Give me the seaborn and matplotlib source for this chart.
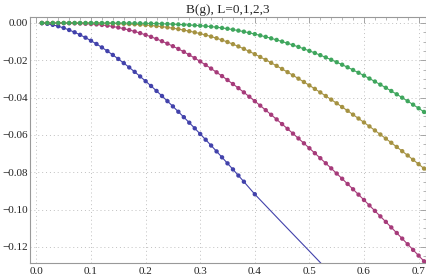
import numpy as np
import pandas as pd
import matplotlib
matplotlib.use("Agg")
import matplotlib.pyplot as plt
from matplotlib.ticker import MultipleLocator, FuncFormatter
import seaborn as sns

# ---------------- data ----------------
g_all = [round(0.01 * i, 2) for i in range(1, 73)]  # 0.01 .. 0.72

g_L0 = [0.01, 0.02, 0.03, 0.04, 0.05, 0.06, 0.07, 0.08, 0.09, 0.10,
        0.11, 0.12, 0.13, 0.14, 0.15, 0.16, 0.17, 0.18, 0.19, 0.20,
        0.21, 0.22, 0.23, 0.24, 0.25, 0.26, 0.27, 0.28, 0.29, 0.30,
        0.31, 0.32, 0.33, 0.34, 0.35, 0.36, 0.37, 0.38, 0.40]
B_L0 = [-0.000118, -0.000461, -0.001010, -0.001750, -0.002667, -0.003748, -0.004982, -0.006358, -0.007867, -0.009500,
        -0.011249, -0.013107, -0.015066, -0.017122, -0.019268, -0.021499, -0.023809, -0.026196, -0.028654, -0.031180,
        -0.033769, -0.036420, -0.039128, -0.041891, -0.044706, -0.047571, -0.050482, -0.053438, -0.056438, -0.059478,
        -0.062558, -0.065674, -0.068826, -0.072013, -0.075232, -0.078483, -0.081763, -0.085072, -0.091780]
# continuation of the L=0 curve (line only, no points)
g_L0_ext = [0.45, 0.50, 0.55]
B_L0_ext = [-0.1071, -0.1223, -0.1376]

B_L1 = [-0.0000006, -0.0000044, -0.0000149, -0.0000352, -0.0000688, -0.000119, -0.000189, -0.000282, -0.000401, -0.000550,
        -0.000757, -0.001047, -0.001421, -0.001878, -0.002419, -0.003043, -0.003751, -0.004542, -0.005417, -0.006375,
        -0.007418, -0.008546, -0.009758, -0.011056, -0.012438, -0.013906, -0.015458, -0.017096, -0.018818, -0.020626,
        -0.022504, -0.024436, -0.026424, -0.028466, -0.030564, -0.032716, -0.034924, -0.037186, -0.039504, -0.041876,
        -0.044289, -0.046726, -0.049189, -0.051676, -0.054189, -0.056726, -0.059289, -0.061876, -0.064489, -0.067126,
        -0.069789, -0.072476, -0.075189, -0.077926, -0.080689, -0.083476, -0.086289, -0.089126, -0.091989, -0.094876,
        -0.097784, -0.100708, -0.103648, -0.106604, -0.109576, -0.112564, -0.115568, -0.118588, -0.121624, -0.124676,
        -0.127728, -0.130810]

B_L2 = [0.0, -0.0000001, -0.0000006, -0.0000018, -0.0000043, -0.0000089, -0.0000166, -0.0000283, -0.0000453, -0.000069,
        -0.000101, -0.000143, -0.000197, -0.000265, -0.000349, -0.000452, -0.000576, -0.000724, -0.000899, -0.001104,
        -0.001348, -0.001640, -0.001980, -0.002368, -0.002804, -0.003288, -0.003820, -0.004400, -0.005028, -0.005704,
        -0.006444, -0.007264, -0.008164, -0.009144, -0.010204, -0.011344, -0.012564, -0.013864, -0.015244, -0.016704,
        -0.018222, -0.019774, -0.021362, -0.022984, -0.024642, -0.026334, -0.028062, -0.029824, -0.031622, -0.033454,
        -0.035318, -0.037208, -0.039126, -0.041070, -0.043042, -0.045040, -0.047066, -0.049118, -0.051198, -0.053304,
        -0.055436, -0.057590, -0.059768, -0.061968, -0.064192, -0.066438, -0.068708, -0.071000, -0.073316, -0.075654,
        -0.078014, -0.080390]

B_L3 = [0.0, 0.0, 0.0, 0.0, -0.0000002, -0.0000005, -0.0000011, -0.0000020, -0.0000037, -0.0000063,
        -0.0000101, -0.0000156, -0.0000232, -0.0000336, -0.0000475, -0.0000655, -0.0000887, -0.000118, -0.000155, -0.000200,
        -0.000258, -0.000330, -0.000418, -0.000520, -0.000638, -0.000770, -0.000918, -0.001080, -0.001258, -0.001450,
        -0.001675, -0.001950, -0.002275, -0.002650, -0.003075, -0.003550, -0.004075, -0.004650, -0.005275, -0.005950,
        -0.006670, -0.007430, -0.008230, -0.009070, -0.009950, -0.010870, -0.011830, -0.012830, -0.013870, -0.014950,
        -0.016073, -0.017240, -0.018453, -0.019710, -0.021013, -0.022360, -0.023753, -0.025190, -0.026673, -0.028200,
        -0.029770, -0.031380, -0.033030, -0.034720, -0.036450, -0.038220, -0.040030, -0.041880, -0.043770, -0.045700,
        -0.047670, -0.049660]

series_names = ["L=0", "L=1", "L=2", "L=3"]
colors = ["#4242ab", "#a63b7a", "#a59241", "#3fa65d"]
x_ticks = [0.0, 0.1, 0.2, 0.3, 0.4, 0.5, 0.6, 0.7]
y_ticks = [0.00, -0.02, -0.04, -0.06, -0.08, -0.10, -0.12]
title = "B(g), L=0,1,2,3"

# ---------------- tables ----------------
pts = pd.concat([
    pd.DataFrame({"g": g_L0, "B": B_L0, "L": "L=0"}),
    pd.DataFrame({"g": g_all, "B": B_L1, "L": "L=1"}),
    pd.DataFrame({"g": g_all, "B": B_L2, "L": "L=2"}),
    pd.DataFrame({"g": g_all, "B": B_L3, "L": "L=3"}),
], ignore_index=True)
lines = pd.concat([
    pd.DataFrame({"g": g_L0 + g_L0_ext, "B": B_L0 + B_L0_ext, "L": "L=0"}),
    pts[pts.L != "L=0"],
], ignore_index=True)

# ---------------- plot ----------------
sns.set_style("white")
plt.rcParams["font.family"] = ["Liberation Serif", "DejaVu Serif"]

fig = plt.figure(figsize=(4.27, 2.79), dpi=100)
ax = fig.add_axes([0.0703, 0.057, 0.9274, 0.881])
pal = dict(zip(series_names, colors))

sns.lineplot(data=lines, x="g", y="B", hue="L", palette=pal, estimator=None,
             sort=False, linewidth=0.8, legend=False, ax=ax, zorder=2)
sns.scatterplot(data=pts, x="g", y="B", hue="L", palette=pal, s=10,
                edgecolor="none", linewidth=0, legend=False, ax=ax, zorder=3)

ax.set_xlim(-0.0117, 0.7136)
ax.set_ylim(-0.1287, 0.00305)
ax.set_xticks(x_ticks)
ax.set_yticks(y_ticks)
ax.xaxis.set_major_formatter(FuncFormatter(lambda v, p: f"{v:.1f}".replace("-", "\u2212")))
ax.yaxis.set_major_formatter(FuncFormatter(
    lambda v, p: "0.00" if abs(v) < 1e-9 else f"{v:.2f}".replace("-", "\u2212")))
ax.xaxis.set_minor_locator(MultipleLocator(0.02))
ax.yaxis.set_minor_locator(MultipleLocator(0.005))
ax.tick_params(which="both", direction="in", top=True, right=True,
               color="#999999", labelsize=8, labelcolor="#222222")
ax.tick_params(axis="y", which="major", pad=1.5)
ax.tick_params(axis="x", which="major", pad=3)
ax.tick_params(which="major", length=4, width=0.6)
ax.tick_params(which="minor", length=2, width=0.5)
ax.set_xlabel("")
ax.set_ylabel("")
for sp in ax.spines.values():
    sp.set_color("#999999")
    sp.set_linewidth(0.8)
ax.grid(True, which="major", linestyle=(0, (1, 3)), color="#c0c0c0", linewidth=0.7)
ax.set_axisbelow(True)
ax.set_title(title, fontsize=9.5, pad=3)

fig.savefig("out.png", dpi=100)
